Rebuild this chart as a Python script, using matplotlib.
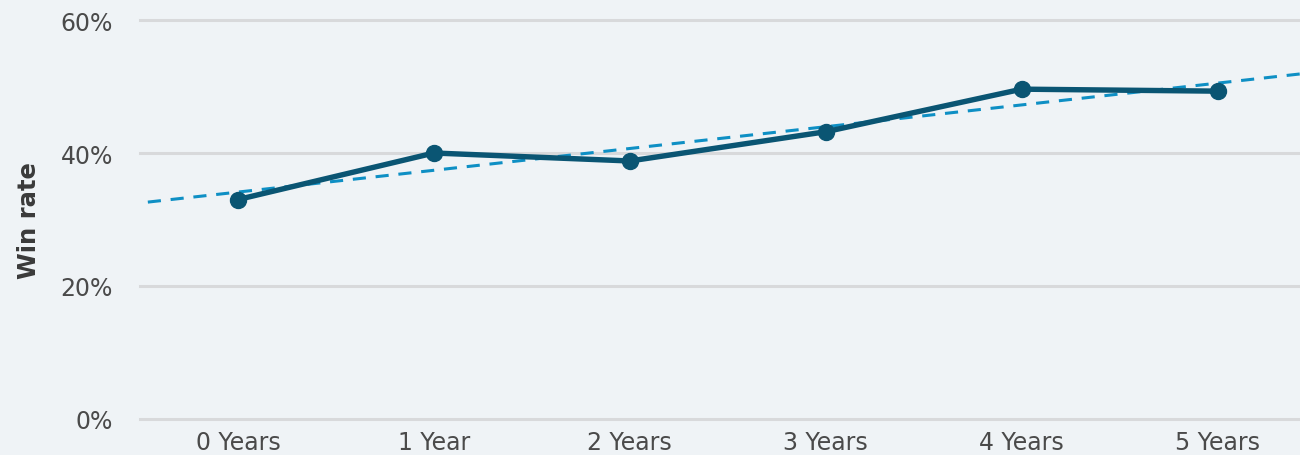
import numpy as np
import matplotlib
matplotlib.use("Agg")
import matplotlib.pyplot as plt
from matplotlib.ticker import PercentFormatter

categories = ["0 Years", "1 Year", "2 Years", "3 Years", "4 Years", "5 Years"]
win_rate = [33.0, 40.0, 38.8, 43.2, 49.6, 49.3]
y_ticks = [0, 20, 40, 60]

plt.rcParams["font.family"] = ["DejaVu Sans"]

bg = "#eff3f6"
line_color = "#0a5573"
trend_color = "#0e8fc4"
text_color = "#4a4a4a"
label_color = "#3a3a3a"
grid_color = "#d8d9db"

fig = plt.figure(figsize=(13, 4.56), dpi=100, facecolor=bg)
ax = fig.add_axes([140 / 1300, 36 / 456, 1160 / 1300, 399 / 456])
ax.set_facecolor(bg)

x = np.arange(len(categories))

# linear trend across the categories
slope, intercept = np.polyfit(x, win_rate, 1)
tx = np.array([-0.46, 5.6])
ax.plot(tx, slope * tx + intercept, color=trend_color, lw=2.2,
        linestyle=(0, (4.3, 3.2)), zorder=2)

ax.plot(x, win_rate, color=line_color, lw=3.9, marker="o", markersize=11.5,
        zorder=3, solid_capstyle="round")

ax.set_xlim(-0.5, 5.42)
ax.set_ylim(0, 60)
ax.set_yticks(y_ticks)
ax.yaxis.set_major_formatter(PercentFormatter(decimals=0))
ax.set_xticks(x)
ax.set_xticklabels(categories)

# horizontal gridlines, including the baseline at 0%
for yv in y_ticks:
    ax.axhline(yv, color=grid_color, lw=2.2, zorder=1, clip_on=False)

for s in ax.spines.values():
    s.set_visible(False)
ax.tick_params(axis="both", length=0, labelsize=17, labelcolor=text_color)
ax.tick_params(axis="y", pad=19.5)
ax.tick_params(axis="x", pad=8)

ax.set_ylabel("Win rate", fontsize=17.5, fontweight="bold", color=label_color,
              labelpad=14)

fig.savefig("out.png", dpi=100, facecolor=bg)
